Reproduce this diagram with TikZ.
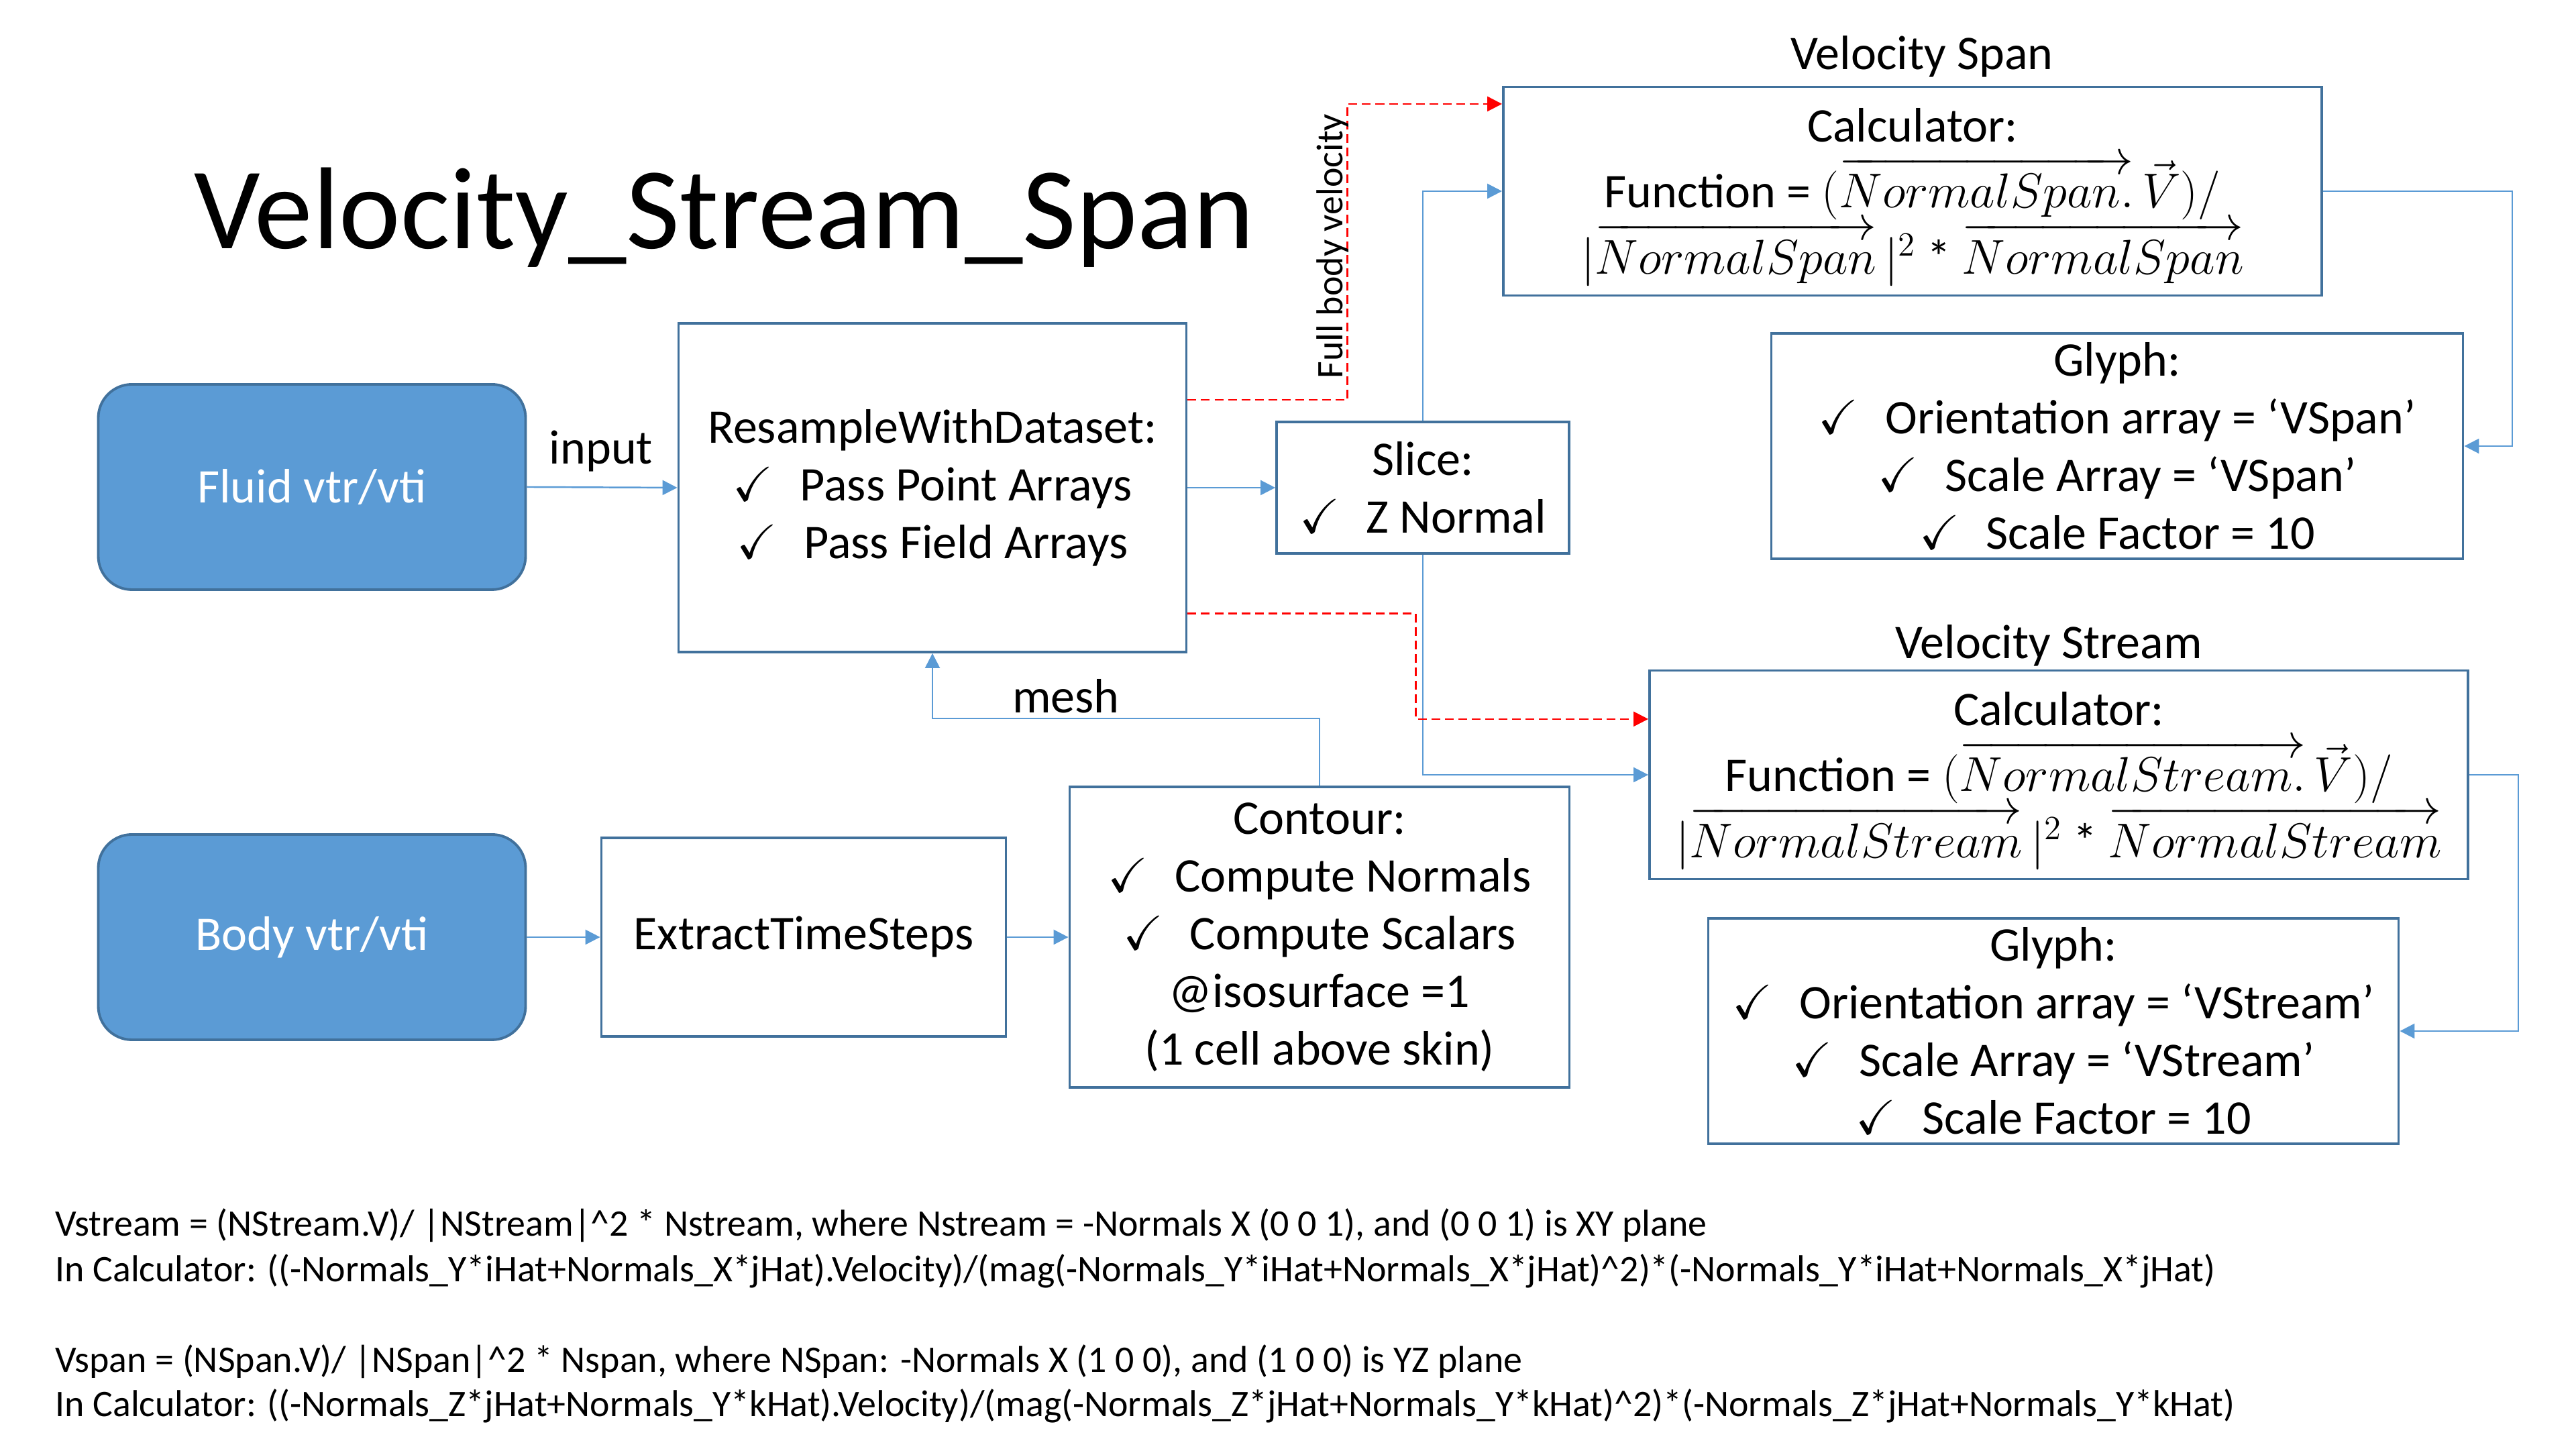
\documentclass[tikz,border=0pt]{standalone}
\usepackage{amsmath,amssymb}
\usepackage{fontspec}
\setmainfont{Carlito}
\usepackage{tikz}
\usetikzlibrary{arrows.meta, calc}

\definecolor{srcfill}{HTML}{5B9BD5}
\definecolor{boxedge}{HTML}{41719C}
\definecolor{flowblue}{HTML}{5B9BD5}

\newcommand{\boxfont}{\fontsize{20.5}{24.5}\selectfont}
\newcommand{\calcfont}{\fontsize{20.5}{28}\selectfont}
\newcommand{\notefont}{\fontsize{15.9}{19.5}\selectfont}
\newcommand{\chk}{$\checkmark$\hspace{0.55em}}

\tikzset{
  srcbox/.style={draw=boxedge, fill=srcfill, line width=1.1pt, rounded corners=0.5cm,
    text=white, font=\boxfont, inner sep=0pt},
  procbox/.style={draw=boxedge, line width=1.1pt, align=center, font=\boxfont, inner sep=0pt},
  flow/.style={draw=flowblue, line width=0.7pt, -{Triangle[length=0.22cm,width=0.22cm]}},
  redflow/.style={draw=red, line width=0.7pt, dash pattern=on 3.7pt off 2pt,
    -{Triangle[length=0.22cm,width=0.22cm]}},
}

\begin{document}
\begin{tikzpicture}
  \useasboundingbox (0,0) rectangle (38.4,21.6);
  % --- Title ---
  \node (title) at (10.80,18.36) {\fontsize{49.4}{56}\selectfont Velocity\_Stream\_Span};
  % --- Sources ---
  \node[srcbox, minimum width=6.37cm, minimum height=3.06cm] (fluid) at (4.65,14.34) {Fluid vtr/vti};
  \node[srcbox, minimum width=6.37cm, minimum height=3.06cm] (body) at (4.65,7.63) {Body vtr/vti};
  % --- Filters ---
  \node[procbox, minimum width=7.57cm, minimum height=4.90cm] (resample) at (13.90,14.33)
    {ResampleWithDataset:\\ \chk Pass Point Arrays\\ \chk Pass Field Arrays};
  \node[procbox, minimum width=4.36cm, minimum height=1.96cm] (slice) at (21.21,14.33)
    {Slice:\\ \chk Z Normal};
  \node[procbox, minimum width=6.03cm, minimum height=2.96cm] (extract) at (11.98,7.63)
    {ExtractTimeSteps};
  \node[procbox, minimum width=7.45cm, minimum height=4.48cm] (contour) at (19.67,7.63)
    {Contour:\\ \chk Compute Normals\\ \chk Compute Scalars\\ @isosurface =1\\ (1 cell above skin)};
  % --- Velocity Span ---
  \node[procbox, font=\calcfont, minimum width=12.20cm, minimum height=3.11cm] (vspan) at (28.51,18.75)
    {Calculator:\\
     \smash{Function = $(\overrightarrow{NormalSpan.}\,\vec{V})/$}\\
     \smash{$|\overrightarrow{NormalSpan}\,|^{2}$ * $\overrightarrow{NormalSpan}$}};
  \node[font=\boxfont] (vspanlbl) at (28.65,20.76) {Velocity Span};
  \node[procbox, minimum width=10.31cm, minimum height=3.36cm] (gspan) at (31.56,14.95)
    {Glyph:\\ \chk Orientation array = `VSpan'\\ \chk Scale Array = `VSpan'\\ \chk Scale Factor = 10};
  % --- Velocity Stream ---
  \node[procbox, font=\calcfont, minimum width=12.20cm, minimum height=3.11cm] (vstream) at (30.69,10.05)
    {Calculator:\\
     \smash{Function = $(\overrightarrow{NormalStream.}\,\vec{V})/$}\\
     \smash{$|\overrightarrow{NormalStream}\,|^{2}$ * $\overrightarrow{NormalStream}$}};
  \node[font=\boxfont] (vstreamlbl) at (30.54,11.98) {Velocity Stream};
  \node[procbox, minimum width=10.29cm, minimum height=3.36cm] (gstream) at (30.61,6.23)
    {Glyph:\\ \chk Orientation array = `VStream'\\ \chk Scale Array = `VStream'\\ \chk Scale Factor = 10};
  % --- Connectors ---
  \draw[flow] (fluid.east) -- (resample.west);
  \node[font=\boxfont] (input) at (8.96,14.87) {input};
  \draw[flow] (resample.east) -- (slice.west);
  \draw[flow] (slice.north) |- (vspan.west);
  \draw[flow] (slice.south) |- (vstream.west);
  \draw[flow] (vspan.east) -- ++(2.82,0) |- (gspan.east);
  \draw[flow] (vstream.east) -- ++(0.73,0) |- (gstream.east);
  \draw[flow] (body.east) -- (extract.west);
  \draw[flow] (extract.east) -- (contour.west);
  \draw[flow] (contour.north) -- ++(0,1.00) -| (resample.south);
  \node[font=\boxfont] (mesh) at (15.89,11.22) {mesh};
  % --- Full body velocity (red, dashed) ---
  \draw[redflow] ($(resample.north east)!0.235!(resample.south east)$) -- ++(2.38,0)
    |- ($(vspan.north west)!0.087!(vspan.south west)$);
  \node[rotate=90, anchor=base, inner sep=0pt, font=\fontsize{15.9}{19}\selectfont] (fbv)
    at (20.01,17.93) {Full body velocity};
  \draw[redflow] ($(resample.north east)!0.88!(resample.south east)$) -- ++(3.40,0)
    |- ($(vstream.north west)!0.236!(vstream.south west)$);
  % --- Notes ---
  \node[anchor=west, font=\notefont] (n1) at (0.70,3.33)
    {Vstream = (NStream.V)/ |NStream|\textasciicircum 2 * Nstream, where Nstream = -Normals X (0 0 1), and (0 0 1) is XY plane};
  \node[anchor=west, font=\notefont] (n2) at (0.70,2.65)
    {In Calculator: ((-Normals\_Y*iHat+Normals\_X*jHat).Velocity)/(mag(-Normals\_Y*iHat+Normals\_X*jHat)\textasciicircum 2)*(-Normals\_Y*iHat+Normals\_X*jHat)};
  \node[anchor=west, font=\notefont] (n3) at (0.70,1.30)
    {Vspan = (NSpan.V)/ |NSpan|\textasciicircum 2 * Nspan, where NSpan: -Normals X (1 0 0), and (1 0 0) is YZ plane};
  \node[anchor=west, font=\notefont] (n4) at (0.70,0.64)
    {In Calculator: ((-Normals\_Z*jHat+Normals\_Y*kHat).Velocity)/(mag(-Normals\_Z*jHat+Normals\_Y*kHat)\textasciicircum 2)*(-Normals\_Z*jHat+Normals\_Y*kHat)};
\end{tikzpicture}
\end{document}
